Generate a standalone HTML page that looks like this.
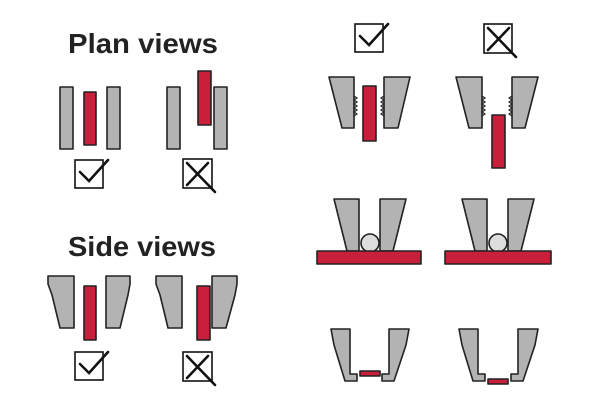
<!DOCTYPE html>
<html><head><meta charset="utf-8"><style>html,body{margin:0;padding:0;background:#fff}svg{display:block}</style></head>
<body>
<svg width="600" height="400" viewBox="0 0 600 400" xmlns="http://www.w3.org/2000/svg">
<g font-family="Liberation Sans, sans-serif" font-weight="bold" font-size="28" fill="#222">
<text x="68" y="53" textLength="150" lengthAdjust="spacingAndGlyphs">Plan views</text>
<text x="68" y="256" textLength="148" lengthAdjust="spacingAndGlyphs">Side views</text>
</g>
<g stroke="#222" stroke-width="1.6" stroke-linejoin="round">
<!-- plan views -->
<rect x="60" y="87" width="13" height="62" fill="#b3b3b3"/>
<rect x="84" y="92" width="12" height="53" fill="#c8203a"/>
<rect x="107" y="87" width="13" height="62" fill="#b3b3b3"/>
<rect x="167" y="87" width="13" height="62" fill="#b3b3b3"/>
<rect x="198" y="71" width="13" height="54" fill="#c8203a"/>
<rect x="214" y="87" width="13" height="62" fill="#b3b3b3"/>
<!-- side views -->
<path d="M48 276 H74 V328 H60 L52 295 L48 284 Z" fill="#b3b3b3"/>
<path d="M130 276 H106 V328 H120 L128 295 L130 284 Z" fill="#b3b3b3"/>
<rect x="84" y="286" width="12" height="54" fill="#c8203a"/>
<path d="M156 276 H182 V328 H168 L160 295 L156 284 Z" fill="#b3b3b3"/>
<path d="M237 276 H212 V328 H226 L235 295 L237 284 Z" fill="#b3b3b3"/>
<rect x="197" y="286" width="13" height="54" fill="#c8203a"/>
<!-- right top -->
<path d="M329 77 H354 V128 H342 Z" fill="#b3b3b3"/>
<path d="M410 77 H384 V128 H398 Z" fill="#b3b3b3"/>
<rect x="363" y="86" width="13" height="55" fill="#c8203a"/>
<path d="M456 77 H482 V128 H469 Z" fill="#b3b3b3"/>
<path d="M538 77 H512 V128 H525 Z" fill="#b3b3b3"/>
<rect x="492" y="115" width="13" height="53" fill="#c8203a"/>
<!-- middle -->
<path d="M334 199 H359 V251 H347 Z" fill="#b3b3b3"/>
<path d="M406 199 H380 V251 H393 Z" fill="#b3b3b3"/>
<circle cx="370" cy="243" r="9" fill="#ddd"/>
<rect x="317" y="251" width="104" height="13" fill="#c8203a"/>
<path d="M462 199 H487 V251 H475 Z" fill="#b3b3b3"/>
<path d="M534 199 H508 V251 H521 Z" fill="#b3b3b3"/>
<circle cx="498" cy="243" r="9" fill="#ddd"/>
<rect x="445" y="251" width="106" height="13" fill="#c8203a"/>
<!-- bottom -->
<path d="M331 329 H350 V374 H357 V381 H345 L334 345 Z" fill="#b3b3b3"/>
<path d="M409 329 H389 V374 H382 V381 H394 L406 345 Z" fill="#b3b3b3"/>
<rect x="360" y="371" width="20" height="5" fill="#c8203a"/>
<path d="M459 329 H478 V374 H485 V381 H473 L462 345 Z" fill="#b3b3b3"/>
<path d="M538 329 H518 V374 H511 V381 H523 L535 345 Z" fill="#b3b3b3"/>
<rect x="488" y="379" width="20" height="5" fill="#c8203a"/>
</g>
<!-- teeth -->
<g stroke="#222" stroke-width="1.2" fill="none">
<path d="M354 96 l3 2 -3 2 3 2 -3 2 3 2 -3 2 3 2 -3 2 3 2 -3 2"/>
<path d="M384 96 l-3 2 3 2 -3 2 3 2 -3 2 3 2 -3 2 3 2 -3 2 3 2"/>
<path d="M482 96 l3 2 -3 2 3 2 -3 2 3 2 -3 2 3 2 -3 2 3 2 -3 2"/>
<path d="M512 96 l-3 2 3 2 -3 2 3 2 -3 2 3 2 -3 2 3 2 -3 2 3 2"/>
</g>
<!-- check boxes -->
<g stroke="#111" stroke-width="1.6" fill="#fff">
<rect x="75" y="160" width="28" height="28"/>
<rect x="183" y="159" width="29" height="29"/>
<rect x="75" y="352" width="28" height="28"/>
<rect x="183" y="352" width="29" height="29"/>
<rect x="355" y="24" width="28" height="28"/>
<rect x="484" y="24" width="28" height="29"/>
</g>
<g stroke="#111" stroke-width="2.6" fill="none" stroke-linecap="round">
<path d="M80 172 L89 181 L108 160"/>
<path d="M80 364 L89 373 L108 352"/>
<path d="M360 36 L369 45 L388 24"/>
<path d="M187 163 L215 192 M208 163 L187 185"/>
<path d="M187 356 L215 385 M208 356 L187 378"/>
<path d="M488 28 L516 57 M509 28 L488 50"/>
</g>
</svg>
</body></html>
